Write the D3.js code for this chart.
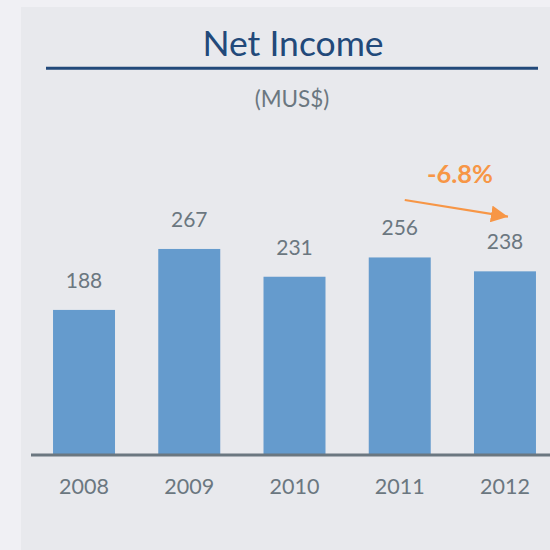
<!DOCTYPE html>
<html><head><meta charset="utf-8">
<script src="https://cdn.jsdelivr.net/npm/d3@7"></script>
<style>html,body{margin:0;padding:0;background:#f0f0f4;}svg{display:block;}</style>
</head><body>
<svg id="c" width="550" height="550"></svg>
<script>
const years = ["2008","2009","2010","2011","2012"];
const netIncome = [188, 267, 231, 256, 238];
const title = "Net Income";
const subtitle = "(MUS$)";
const changeLabel = "-6.8%";

const svg = d3.select("#c");
const font = "Lato, 'Open Sans', sans-serif";
svg.append("rect").attr("x",0).attr("y",0).attr("width",550).attr("height",550).attr("fill","#f0f0f4");
svg.append("rect").attr("x",21).attr("y",7).attr("width",529).attr("height",543).attr("fill","#e8e9ed");

svg.append("text").attr("x",293).attr("y",56).attr("text-anchor","middle")
  .attr("font-family",font).attr("font-size",35.5).attr("fill","#22497a").text(title);
svg.append("line").attr("x1",46).attr("x2",538).attr("y1",68.3).attr("y2",68.3)
  .attr("stroke","#22497a").attr("stroke-width",3);
svg.append("text").attr("x",292).attr("y",107).attr("text-anchor","middle")
  .attr("font-family",font).attr("font-size",22.5).attr("fill","#6b7780").text(subtitle);

const x = d3.scaleBand().domain(years).range([31.4, 557.6]).paddingInner(0.411).paddingOuter(0.2055);
const y = d3.scaleLinear().domain([0,300]).range([455, 455-231.5]);

const data = years.map((yr,i)=>({yr, v:netIncome[i]}));
svg.selectAll("rect.bar").data(data).join("rect").attr("class","bar")
  .attr("x",d=>x(d.yr)).attr("width",x.bandwidth())
  .attr("y",d=>y(d.v)).attr("height",d=>y(0)-y(d.v)).attr("fill","#659bcd");
svg.selectAll("text.val").data(data).join("text").attr("class","val")
  .attr("x",d=>x(d.yr)+x.bandwidth()/2).attr("y",d=>y(d.v)-22)
  .attr("text-anchor","middle").attr("font-family",font).attr("font-size",21).attr("fill","#6b7780")
  .text(d=>d.v);

const axis = svg.append("g").attr("transform","translate(0,455)")
  .call(d3.axisBottom(x).tickSize(0).tickPadding(0));
axis.select(".domain").remove();
axis.append("line").attr("x1",31).attr("x2",550).attr("y1",0).attr("y2",0).attr("stroke","#6b7780").attr("stroke-width",3);
axis.selectAll(".tick text").attr("dy",null).attr("y",39).attr("font-family",font).attr("font-size",21.5).attr("fill","#6b7780");

// trend arrow
const i0 = 3, i1 = 4;
const ax1 = x(years[i0])+x.bandwidth()/2+5, ax2 = x(years[i1])+x.bandwidth()/2+3;
const defs = svg.append("defs");
defs.append("marker").attr("id","ah").attr("viewBox","0 0 16 16").attr("refX",16).attr("refY",8)
  .attr("markerWidth",17).attr("markerHeight",17).attr("orient","auto").attr("markerUnits","userSpaceOnUse")
  .append("path").attr("d","M0,0 L16,8 L0,16 Z").attr("fill","#f79646");
svg.append("line").attr("x1",ax1).attr("y1",200).attr("x2",ax2).attr("y2",216.7)
  .attr("stroke","#f79646").attr("stroke-width",2.2).attr("marker-end","url(#ah)");
svg.append("text").attr("x",460).attr("y",183).attr("text-anchor","middle")
  .attr("font-family",font).attr("font-size",25.5).attr("font-weight","bold").attr("fill","#f79646").text(changeLabel);
</script>
</body></html>
